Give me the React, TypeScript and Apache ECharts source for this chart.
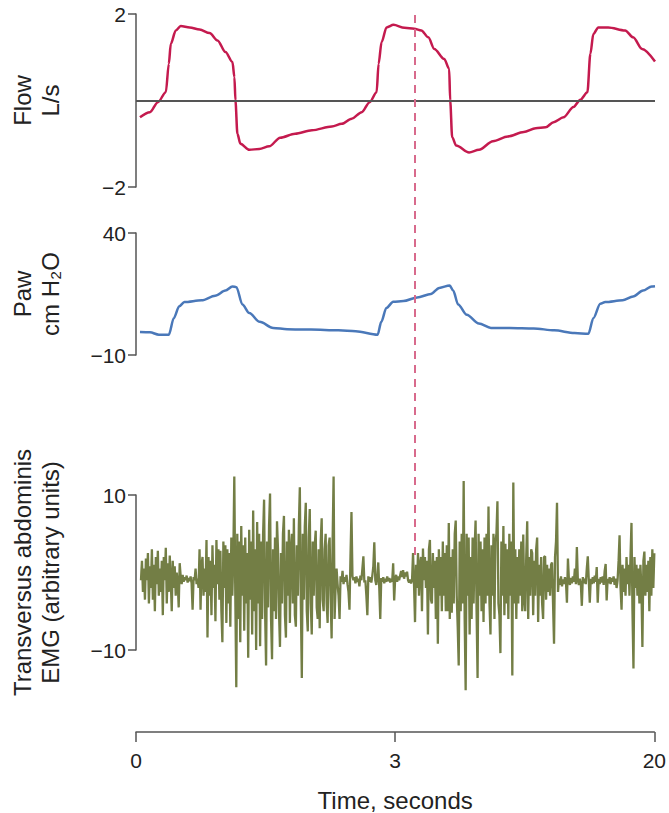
import React, { useEffect, useRef } from "react";
import * as echarts from "echarts";

// Time axis (sample units, 0..522) and its tick labels
const xTickValues = [0, 261, 522];
const xTickLabels = ["0", "3", "20"];

// Flow (L/s)
const flowTime = [4, 14, 22, 30, 33, 35, 40, 45, 54, 64, 74, 82, 90, 97, 99, 100, 102, 105, 114, 124, 134, 145, 160, 177, 197, 207, 217, 227, 235, 242, 244, 247, 252, 259, 270, 280, 287, 294, 300, 310, 315, 316, 318, 322, 335, 345, 359, 374, 390, 402, 412, 420, 430, 440, 447, 454, 457, 460, 465, 475, 492, 500, 509, 522];
const flowValues = [-0.39, -0.27, -0.04, 0.19, 0.85, 1.31, 1.62, 1.72, 1.69, 1.64, 1.56, 1.39, 1.12, 0.89, 0.54, 0, -0.77, -1.0, -1.14, -1.12, -1.06, -0.86, -0.77, -0.69, -0.6, -0.54, -0.42, -0.27, -0.04, 0.19, 0.85, 1.35, 1.69, 1.75, 1.68, 1.66, 1.62, 1.46, 1.19, 0.96, 0.73, 0, -0.85, -1.04, -1.2, -1.14, -0.94, -0.83, -0.73, -0.64, -0.62, -0.5, -0.39, -0.15, 0.02, 0.19, 1.08, 1.54, 1.69, 1.69, 1.62, 1.46, 1.19, 0.9];
const flowTicks = [-2, 2];

// Paw (cm H2O)
const pawTime = [4, 14, 23, 33, 38, 43.5, 48.7, 66, 79.6, 90, 97, 101, 107, 114, 124.4, 138, 152, 176, 203.6, 221, 243, 246.7, 251.8, 258.7, 269, 282.8, 296.6, 305, 315.5, 319, 324, 332.7, 344.8, 357, 375.8, 400, 420.6, 441, 455, 460, 467, 472, 489.4, 500, 510, 518.7, 522];
const pawValues = [-0.6, -0.7, -1.7, -1.7, 5.1, 10.0, 11.7, 12.4, 14.3, 16.4, 18.1, 17.8, 10.7, 7.2, 3.6, 1.1, 0.6, 0.4, 0.1, -0.3, -1.7, 3.6, 9.3, 11.8, 12.1, 13.6, 15.0, 17.5, 18.5, 16.4, 10.7, 6.5, 2.9, 1.1, 1.1, 0.9, 0.1, -1.0, -1.3, 5.1, 11.0, 11.7, 12.4, 14.0, 16.4, 18.1, 18.2];
const pawTicks = [-10, 40];

// Transversus abdominis EMG (arbitrary units), one sample per time unit from t = 5
const emgStart = 5;
const emgStep = 1;
const emgValues = [
  // quiet-moderate start
  -1.0, 1.5, -2.5, 0.5, -3.5, 1.8, -1.0, 2.5, -4.0, 0.8, -2.0, 3.0, -3.5, 1.0, -5.0, 2.0, -1.5, 2.8, -3.0, 0.5,
  -2.5, 1.5, -5.5, 2.0, -1.0, 3.2, -4.0, 1.2, -2.5, 2.2, -1.0, -5.0, 1.5, -2.0, 0.8, -3.0, 0.0,
  -1.2, -4.5, 1.2, -0.5, -1.5, -0.3, -1.2, -0.6, -1.0, -0.4, -1.3, -0.7, -1.1, -0.5, -1.4, -4.8, -0.6, -1.0, 0.5, -1.5, -0.8,
  -2.0, 3.0, -4.8, 1.0, 2.0, -3.0, 0.5, -2.5, 4.2, -8.4, 2.0, -3.0, 1.5, -5.5, 3.5, -2.0, 1.0, -6.3, 4.2, -1.5,
  3.0, -3.5, 2.8, -5.0, -9.0, 4.0, -2.0, 3.5, -6.5, 3.0, -4.0, 2.5, -7.0, 4.5, -3.0,
  2.0, 12.4, -3.0, -14.8,
  // first burst
  5.0, -6.0, 4.0, -9.0, 6.0, -3.0, 3.5, -7.5, 4.5, -4.0, 2.5, -11.0, 5.5, -3.5, 4.0, -8.0, 8.0, -5.0, 3.0, -10.0,
  6.5, -4.0, 5.0, -9.5, 4.0, -6.0, 5.0, 9.4, -5.0, -12.0, 4.0, -4.5, 6.0, 10.2, -6.0, -11.2, 3.0, -5.0, 4.5, -6.0,
  6.6, 3.0, -5.0, -9.6, 2.5, -4.0, 5.0, 7.3, -5.5, -8.4, 4.0, -3.0, 5.5, -6.5, 3.0, 5.0, -4.0, 7.0, -5.5, -7.0,
  3.5, -3.0, 6.0, 11.0, -4.0, -13.6, 5.0, -3.5, 6.0, 9.0, -5.0, -7.6, 4.5, 8.2, -4.0, -8.0, 4.0, -3.0, 3.5, 5.4,
  -4.5, -6.0, 3.0, -7.2, 4.0, 7.0, -3.5, -5.0, 3.0, 5.0, -4.0, -6.5, 3.5, 4.5, -3.0, -8.5, 4.0, 12.4, -6.0,
  // quiet expiration
  -2.0, 0.5, -1.5, -3.0, -6.0, -0.5, -1.2, 0.2, -1.5, -0.6, -1.2, -0.3, -1.5, -2.5, -4.8, 2.0, 7.8, -0.5, -1.0, -0.6,
  -1.4, -0.5, -1.2, -0.8, -1.8, -0.4, -1.0, 0.5, 2.1, -1.3, -1.0, -3.0, -5.5, -0.5, -1.2, -0.6, -1.3, -0.4, 0.8, 3.9,
  -1.0, -1.6, -0.6, 1.3, -2.0, -6.0, -0.7, -1.2, -0.6, -1.4, -0.8, -1.2, -0.5, -1.1, -0.7, -1.3, -0.8, -1.2, 1.2, -3.6,
  -0.8, -0.3, -1.2, -0.5, -1.0, -0.4, 0.2, -0.6, 0.3, -0.8, 0.0, -0.5, 0.1, -1.0, -1.3, -0.9, -1.4, -1.0, 2.5, -1.5,
  // second burst onset
  -6.4, 1.0, -2.0, 2.5, -3.0, 1.0, 2.0, -5.0, 3.1, -1.0, 2.0, -2.0, 1.5, -8.0, 3.0, 4.2, -3.5, -4.0, 2.5, -2.0,
  1.5, -6.0, 2.0, -9.2, 3.0, -3.0, 2.0, -5.0, 4.0, -3.0, 2.5, -5.0,
  // second burst
  3.5, -5.0, 6.4, -6.0, 2.0, -5.2, 3.0, -4.0, 5.0, 6.7, -3.0, -7.0, -12.0, 4.0, -5.0, 5.0, -4.0, 11.8, -6.0, -15.2,
  5.0, -3.0, 4.5, -8.0, 2.0, -6.0, 4.5, -4.0, 3.0, 6.7, -5.0, -13.6, 5.0, -3.0, 4.0, -5.0, 3.0, -6.4, 4.5, -4.0,
  5.0, -3.0, 8.5, -4.0, -8.0, 3.5, -3.0, 5.0, -6.0, 4.0, 5.0, 9.2, -4.0, -5.5, -10.4, 4.0, -3.0, 6.0, -5.5, 3.7,
  -4.0, 3.0, -6.0, 5.0, -3.0, 4.0, -13.3, 11.6, -4.0, 3.0, -6.0, 2.0, -4.0, 3.0, -3.0, 4.0, -5.0, 4.9, -3.5, -5.0,
  2.0, 6.6, -6.0, 2.0, -3.0, 3.0, 2.5, -5.5, 1.5, -3.0, 3.0, 4.5, -6.4, 1.0, -3.0, 2.0, -4.0, -6.0, 2.0, 2.1,
  -3.5, 1.0, -2.5, 0.5, -3.0, 1.0, 1.3, -4.0, -9.2, 2.0, 4.0, 9.0,
  // quiet expiration
  -2.5, -0.8, -1.6, -0.5, -1.8, -0.9, -1.5, -0.6, -1.2, -3.9, 1.8, -1.0, -1.6, -0.7, -1.4, -0.5, -1.2, 0.5, -1.5, 3.3,
  -1.0, -1.6, -0.8, -1.5, -4.3, -0.6, -1.4, -0.8, -1.5, 0.5, 2.1, -1.0, -3.9, -0.8, -1.5, -0.6, -1.4, -0.4, -1.2, 0.7,
  -3.9, -0.8, -1.5, -0.6, -1.3, -0.5, -1.6, 0.2, 1.1, -3.6, -0.8, -1.4, -0.6, -1.5, -0.7, -1.2, -0.5, -1.6, -0.8, -2.0,
  -1.0, 1.5,
  // third burst onset
  4.8, -2.0, -4.8, 1.0, -2.5, 0.5, -3.0, 2.0, -1.5, 1.0, -3.0, 2.0, 6.4, -5.0, -12.4, 2.0, -2.0, 1.0, -3.0, 0.5,
  -4.0, 1.0, -2.0, -9.6, 1.5, 2.7, -3.0, 1.0, -2.5, 1.5, -5.0, 2.0, -3.0, 3.0, -2.0, 2.5,
];
const emgTicks = [-10, 10];

// Marker time (dashed line)
const markerTime = 280;

const FONT = "'Liberation Sans', Arial, Helvetica, sans-serif";
const AXIS_COLOR = "#555555";
const TEXT_COLOR = "#222222";

function yAxisFor(gridIndex: number, min: number, max: number, ticks: number[], name: string) {
  return {
    type: "value",
    gridIndex,
    min,
    max,
    name,
    nameLocation: "middle",
    nameRotate: 90,
    nameGap: 72,
    nameTextStyle: { fontFamily: FONT, fontSize: 24, color: TEXT_COLOR, lineHeight: 28, align: "center" },
    axisLine: { show: true, onZero: false, lineStyle: { color: AXIS_COLOR, width: 1.5 } },
    axisTick: { show: true, customValues: ticks, length: 8, lineStyle: { color: AXIS_COLOR, width: 1.5 } },
    axisLabel: { show: true, customValues: ticks, margin: 10, fontFamily: FONT, fontSize: 21, color: TEXT_COLOR,
      formatter: (v: number) => (v < 0 ? "\u2212" + Math.abs(v) : String(v)) },
    splitLine: { show: false },
  };
}

function hiddenX(gridIndex: number) {
  return { type: "value", gridIndex, min: 0, max: 522, show: false, splitLine: { show: false } };
}

export default function App() {
  const ref = useRef<HTMLDivElement>(null);
  useEffect(() => {
    if (!ref.current) return;
    const chart = echarts.init(ref.current, undefined, { renderer: "svg" });
    const flowData = flowTime.map((t, i) => [t, flowValues[i]]);
    const pawData = pawTime.map((t, i) => [t, pawValues[i]]);
    const emgData = emgValues.map((v, i) => [emgStart + i * emgStep, v]);
    chart.setOption({
      animation: false,
      backgroundColor: "#ffffff",
      grid: [
        { left: 136, right: 14, top: 14, height: 173 },
        { left: 136, right: 14, top: 233, height: 122 },
        { left: 133, right: 14, top: 495, height: 165 },
        { left: 136, right: 14, top: 10, height: 545 },
      ],
      xAxis: [
        hiddenX(0),
        hiddenX(1),
        {
          type: "value",
          gridIndex: 2,
          min: 0,
          max: 522,
          interval: 261,
          offset: 82,
          name: "Time, seconds",
          nameLocation: "middle",
          nameGap: 56,
          nameTextStyle: { fontFamily: FONT, fontSize: 24, color: TEXT_COLOR },
          axisLine: { show: true, onZero: false, lineStyle: { color: AXIS_COLOR, width: 1.5 } },
          axisTick: { show: true, customValues: xTickValues, length: 10, lineStyle: { color: AXIS_COLOR, width: 1.5 } },
          axisLabel: {
            show: true,
            customValues: xTickValues,
            margin: 18,
            fontFamily: FONT,
            fontSize: 21,
            color: TEXT_COLOR,
            formatter: (v: number) => xTickLabels[xTickValues.indexOf(v)] ?? "",
          },
          splitLine: { show: false },
        },
        hiddenX(3),
      ],
      yAxis: [
        yAxisFor(0, -2, 2, flowTicks, "Flow\nL/s"),
        yAxisFor(1, -10, 40, pawTicks, "Paw\ncm H\u2082O"),
        yAxisFor(2, -10, 10, emgTicks, "Transversus abdominis\nEMG (arbitrary units)"),
        { type: "value", gridIndex: 3, min: 0, max: 1, show: false, splitLine: { show: false } },
      ],
      series: [
        {
          type: "line",
          xAxisIndex: 0,
          yAxisIndex: 0,
          data: flowData,
          showSymbol: false,
          clip: false,
          smooth: 0.3,
          smoothMonotone: "x",
          lineStyle: { color: "#c41a4e", width: 2.5 },
          markLine: {
            silent: true,
            symbol: ["none", "none"],
            label: { show: false },
            lineStyle: { color: AXIS_COLOR, width: 2, type: "solid" },
            data: [{ yAxis: 0 }],
          },
          z: 3,
        },
        {
          type: "line",
          xAxisIndex: 1,
          yAxisIndex: 1,
          data: pawData,
          showSymbol: false,
          clip: false,
          smooth: 0.3,
          smoothMonotone: "x",
          lineStyle: { color: "#4a78b9", width: 2.5 },
          z: 3,
        },
        {
          type: "line",
          xAxisIndex: 2,
          yAxisIndex: 2,
          data: emgData,
          showSymbol: false,
          clip: false,
          lineStyle: { color: "#737e45", width: 2.3 },
          z: 3,
        },
        {
          type: "line",
          xAxisIndex: 3,
          yAxisIndex: 3,
          data: [[markerTime, 0.5]],
          showSymbol: false,
          lineStyle: { opacity: 0 },
          markLine: {
            silent: true,
            symbol: ["none", "none"],
            label: { show: false },
            lineStyle: { color: "#d86a8c", width: 2, type: [8, 6] },
            data: [{ xAxis: markerTime }],
          },
          z: 2,
        },
      ],
    });
    return () => chart.dispose();
  }, []);
  return <div ref={ref} style={{ position: "fixed", left: 0, top: 0, width: 669, height: 813 }} />;
}
